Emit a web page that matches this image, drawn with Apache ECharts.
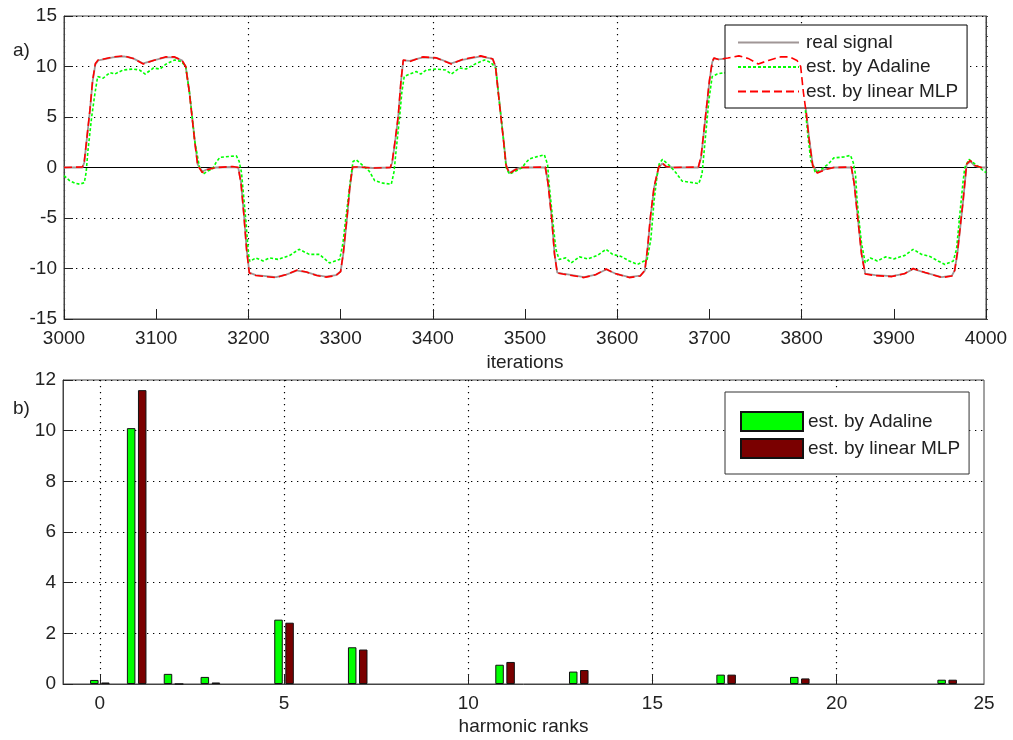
<!DOCTYPE html>
<html><head><meta charset="utf-8">
<script src="https://cdn.jsdelivr.net/npm/echarts@6/dist/echarts.min.js"></script>
<style>html,body{margin:0;padding:0;background:#fff}#c{width:1013px;height:740px}</style>
</head><body><div id="c"></div>
<script>
// ---- panel a) : time signals [iteration, value] ----
const realSignal = [
[3000,0],[3020,0],[3022,0.5],[3025,3],[3028,5.5],[3031,8.5],[3034,10.2],[3037,10.6],[3043,10.7],[3053,10.9],[3065,11.0],[3075,10.8],[3086,10.3],[3097,10.6],[3110,10.9],[3120,10.9],[3128,10.6],[3132,10],[3136,7.5],[3139,5],[3142,2.5],[3145,0.3],[3150,-0.4],[3156,-0.15],[3165,0],[3183,0.05],[3189,0],[3192,-1.5],[3195,-4.5],[3198,-8],[3201,-10.4],[3208,-10.65],[3219,-10.75],[3230,-10.85],[3241,-10.6],[3253,-10.2],[3263,-10.35],[3274,-10.65],[3284,-10.8],[3295,-10.65],[3300,-10.3],[3303,-8.5],[3307,-5],[3310,-2],[3313,0],[3318,0.05],[3335,-0.05],[3354,0],
[3356,0.5],[3359,2.5],[3362.5,5],[3365.5,8.5],[3368,10.6],[3375,10.55],[3389,10.9],[3404,10.85],[3420,10.3],[3432,10.65],[3452,11.0],[3465,10.75],[3468,10],[3471,7.5],[3474,5],[3477,2.5],[3479.5,0.3],[3483,-0.55],[3490,-0.15],[3497,0],[3522,0],[3525,-1.5],[3529,-5],[3532,-8.5],[3535,-10.4],[3541,-10.5],[3548,-10.6],[3564,-10.85],[3577,-10.6],[3588,-10.1],[3598,-10.5],[3613,-10.85],[3625,-10.7],[3630,-10.2],[3633,-8],[3636,-5],[3640,-2],[3645,0],[3649,0.4],[3653,0.1],[3660,0],[3688,0],
[3691,1],[3694,3.5],[3697,6],[3700,8.5],[3703,10.4],[3705,10.8],[3710,10.7],[3720,10.8],[3732,11.0],[3742,10.8],[3753,10.3],[3764,10.6],[3777,10.9],[3787,10.9],[3795,10.6],[3799,10],[3802,7.5],[3805,5.5],[3808,3],[3812,0.3],[3817,-0.5],[3826,-0.15],[3835,0],[3854,0],[3857,-1.5],[3861,-5],[3865,-8.5],[3869,-10.5],[3880,-10.65],[3898,-10.75],[3912,-10.5],[3921,-10.05],[3934,-10.4],[3952,-10.85],[3963,-10.7],[3966,-10.2],[3969,-8.5],[3972,-6],[3975,-3.5],[3979,0.3],[3983,0.6],[3988,0.15],[3995,0],[4000,0]
];
const mlpSignal = [
[3000,0],[3020,0.05],[3022,0.6],[3025,3.1],[3028,5.6],[3031,8.6],[3034,10.3],[3037,10.65],[3043,10.75],[3053,10.95],[3065,11.05],[3075,10.8],[3086,10.25],[3097,10.6],[3110,10.95],[3120,10.95],[3128,10.6],[3132,10],[3136,7.4],[3139,4.9],[3142,2.4],[3145,0.2],[3150,-0.5],[3156,-0.2],[3165,0],[3183,0.1],[3189,0],[3192,-1.6],[3195,-4.6],[3198,-8.1],[3201,-10.45],[3208,-10.7],[3219,-10.8],[3230,-10.9],[3241,-10.6],[3253,-10.15],[3263,-10.35],[3274,-10.7],[3284,-10.85],[3295,-10.7],[3300,-10.3],[3303,-8.4],[3307,-4.9],[3310,-1.9],[3313,0.05],[3318,0.05],[3335,-0.05],[3354,0],
[3356,0.6],[3359,2.6],[3362.5,5.1],[3365.5,8.6],[3368,10.65],[3375,10.5],[3389,10.95],[3404,10.85],[3420,10.25],[3432,10.7],[3452,11.05],[3465,10.75],[3468,10],[3471,7.4],[3474,4.9],[3477,2.4],[3479.5,0.2],[3483,-0.6],[3490,-0.2],[3497,0],[3522,0.05],[3525,-1.6],[3529,-5.1],[3532,-8.6],[3535,-10.45],[3541,-10.55],[3548,-10.65],[3564,-10.9],[3577,-10.6],[3588,-10.05],[3598,-10.5],[3613,-10.9],[3625,-10.75],[3630,-10.2],[3633,-7.9],[3636,-4.9],[3640,-1.9],[3645,0.05],[3649,0.45],[3653,0.1],[3660,0],[3688,0.05],
[3691,1.1],[3694,3.6],[3697,6.1],[3700,8.6],[3703,10.45],[3705,10.85],[3710,10.7],[3720,10.85],[3732,11.05],[3742,10.8],[3753,10.25],[3764,10.6],[3777,10.95],[3787,10.95],[3795,10.6],[3799,10],[3802,7.4],[3805,5.4],[3808,2.9],[3812,0.2],[3817,-0.55],[3826,-0.2],[3835,0],[3854,0.05],[3857,-1.6],[3861,-5.1],[3865,-8.6],[3869,-10.55],[3880,-10.7],[3898,-10.8],[3912,-10.5],[3921,-10.0],[3934,-10.4],[3952,-10.9],[3963,-10.75],[3966,-10.2],[3969,-8.4],[3972,-5.9],[3975,-3.4],[3979,0.35],[3983,0.7],[3988,0.2],[3995,0],[4000,0]
];
const adalineSignal = [
[3000,-0.8],[3006,-1.3],[3012,-1.55],[3017,-1.65],[3022,-1.5],[3024,-0.5],[3026,1.7],[3030,5],[3033.5,7.3],[3036.5,9],[3042.5,8.85],[3050,9.4],[3055,9.25],[3064,9.65],[3075,9.75],[3082,9.65],[3088,9.25],[3097,9.85],[3104,9.75],[3111,10.25],[3120,10.65],[3127,10.5],[3132,10],[3136,7.5],[3139,5],[3142,2.5],[3147,0],[3151,-0.65],[3156,-0.35],[3161,-0.15],[3165,0.5],[3169,1],[3180,1.1],[3187,1.15],[3190,0.6],[3192.5,-0.5],[3195,-3],[3197.5,-5.5],[3200,-8.5],[3201.5,-9.3],[3208,-8.95],[3216,-9.25],[3223,-8.95],[3232,-9.1],[3245,-8.7],[3255,-8.1],[3266,-8.6],[3277,-8.6],[3288,-9.45],[3299,-9.1],[3302.5,-7.5],[3305,-5.5],[3308,-3.3],[3311,-1],[3313.5,0.6],[3317,0.75],[3324,0.2],[3331,-0.35],[3337,-1.3],[3346,-1.55],[3355,-1.65],[3358,-0.4],[3360,1.5],[3364,5],[3366.5,7.5],[3369,9],[3375,9.25],[3382,9.5],[3387,9.25],[3393,9.65],[3404,9.75],[3414,9.65],[3420,9.25],[3429,9.85],[3436,9.75],[3447,10.3],[3456,10.65],[3463,10.4],[3468.5,9.8],[3471,7.5],[3474,5],[3477,2.5],[3479.5,0],[3483,-0.65],[3490,-0.35],[3497,0],[3501,0.5],[3505,0.85],[3512,1.05],[3521,1.25],[3524.5,0.3],[3526,-1.5],[3528,-3.3],[3531,-6],[3533.5,-8.1],[3537,-9.1],[3544,-8.95],[3550,-9.45],[3559,-8.85],[3568,-9.05],[3578.5,-8.7],[3588,-8.1],[3595,-8.6],[3604,-8.8],[3613,-9.25],[3622,-9.6],[3632.5,-9.1],[3636.5,-7.1],[3640,-3.3],[3643,-1],[3645.5,0.35],[3649,0.8],[3651,0.75],[3656,0.25],[3663.5,-0.5],[3670.5,-1.35],[3681.5,-1.5],[3688.5,-1.6],[3692,-0.65],[3696,3.3],[3699.5,6.7],[3703,9],[3708.5,9.25],
[3716,9.4],[3722,9.25],[3731,9.65],[3742,9.75],[3749,9.65],[3755,9.25],[3764,9.85],[3771,9.75],[3778,10.25],[3787,10.65],[3794,10.5],[3799,10],[3802,7.5],[3804,5.8],[3807,3],[3810,0.7],[3815,-0.5],[3822,-0.15],[3829,0.35],[3835,0.95],[3846,1.05],[3853,1.2],[3856,0.5],[3858.5,-0.7],[3860,-3],[3862,-5],[3865,-7.5],[3869,-9.45],[3874.5,-8.95],[3882,-9.25],[3891,-8.85],[3900,-9.05],[3912,-8.7],[3921,-8.1],[3930,-8.6],[3939,-8.8],[3948,-9.25],[3955.5,-9.6],[3964.5,-9.25],[3968,-8.1],[3972,-4.3],[3975,-1.5],[3977,0],[3981.5,0.8],[3988,0.35],[3995,-0.15],[4000,-0.5]
];

// ---- panel b) : harmonic amplitudes ----
const harmonicRanks = [0, 1, 2, 3, 5, 7, 11, 13, 17, 19, 23];
const adalineAmps   = [0.16, 10.1, 0.40, 0.28, 2.54, 1.45, 0.76, 0.49, 0.37, 0.28, 0.17];
const mlpAmps       = [0.06, 11.6, 0.0, 0.06, 2.42, 1.36, 0.87, 0.55, 0.37, 0.22, 0.17];
const rankTickValues = [0, 5, 10, 15, 20, 24];
const rankTickLabels = ['0', '5', '10', '15', '20', '25'];
const rankGridValues = [0, 5, 10, 15, 20];

const FONT = 'Liberation Sans, Arial, sans-serif';
const TXT = '#222';
const gridDot = {color: '#000', type: [1.3, 4.7], width: 1.2};

const chart = echarts.init(document.getElementById('c'), null, {renderer: 'canvas'});
chart.setOption({
  animation: false,
  backgroundColor: '#fff',
  textStyle: {fontFamily: FONT},
  title: [
    {text: 'a)', left: 8, top: 36, textStyle: {fontSize: 19, fontWeight: 'normal', color: TXT, fontFamily: FONT}},
    {text: 'b)', left: 8, top: 394, textStyle: {fontSize: 19, fontWeight: 'normal', color: TXT, fontFamily: FONT}}
  ],
  grid: [
    {left: 64, top: 16, width: 922, height: 303, show: true, borderColor: '#444', borderWidth: 1, containLabel: false},
    {left: 63, top: 380, width: 921, height: 304, show: true, borderColor: '#444', borderWidth: 1, containLabel: false}
  ],
  legend: [
    {
      data: ['real signal', 'est. by Adaline', 'est. by linear MLP'],
      orient: 'vertical', left: 725, top: 25,
      itemWidth: 61, itemHeight: 14, itemGap: 5.5,
      padding: [8, 9, 7, 12],
      borderColor: '#000', borderWidth: 1, backgroundColor: '#fff',
      itemStyle: {opacity: 0, borderWidth: 0},
      textStyle: {fontSize: 19, color: TXT, fontFamily: FONT, padding: [0, 0, 0, 2]},
      selectedMode: false
    },
    {
      data: ['est. by Adaline ', 'est. by linear MLP '],
      orient: 'vertical', left: 725, top: 392,
      icon: 'rect',
      itemWidth: 62, itemHeight: 19, itemGap: 6,
      padding: [19, 9, 15, 15],
      borderColor: '#333', borderWidth: 1, backgroundColor: '#fff',
      formatter: n => n.trim(),
      textStyle: {fontSize: 19, color: TXT, fontFamily: FONT},
      selectedMode: false
    }
  ],
  xAxis: [
    { // labels + ticks every 100
      type: 'value', gridIndex: 0, min: 3000, max: 4000, interval: 100,
      name: 'iterations', nameLocation: 'middle', nameGap: 34,
      nameTextStyle: {fontSize: 19, color: TXT, fontFamily: FONT},
      axisLine: {show: true, onZero: false, lineStyle: {color: '#444'}},
      axisTick: {show: true, inside: true, length: 10, lineStyle: {color: '#222'}},
      axisLabel: {fontSize: 19, color: TXT, margin: 10, fontFamily: FONT, formatter: v => String(v)},
      splitLine: {show: false}
    },
    { // grid lines every 200
      type: 'value', gridIndex: 0, min: 3000, max: 4000, interval: 200, position: 'bottom',
      axisLine: {show: false}, axisTick: {show: false}, axisLabel: {show: false},
      splitLine: {show: true, lineStyle: gridDot}
    },
    {
      type: 'value', gridIndex: 1, min: -1, max: 24,
      name: 'harmonic ranks', nameLocation: 'middle', nameGap: 33,
      nameTextStyle: {fontSize: 19, color: TXT, fontFamily: FONT},
      axisLine: {show: true, onZero: false, lineStyle: {color: '#444'}},
      axisTick: {show: true, inside: true, length: 10, customValues: rankGridValues, lineStyle: {color: '#222'}},
      axisLabel: {fontSize: 19, color: TXT, margin: 10, fontFamily: FONT, customValues: rankTickValues,
        formatter: v => rankTickLabels[rankTickValues.indexOf(v)] ?? ''},
      splitLine: {show: true, lineStyle: gridDot}
    }
  ],
  yAxis: [
    {
      type: 'value', gridIndex: 0, min: -15, max: 15, interval: 5,
      axisLine: {show: true, onZero: false, lineStyle: {color: '#444'}},
      axisTick: {show: true, inside: true, length: 9, lineStyle: {color: '#222'}},
      axisLabel: {fontSize: 19, color: TXT, margin: 7, fontFamily: FONT},
      splitLine: {show: true, lineStyle: gridDot}
    },
    {
      type: 'value', gridIndex: 0, min: -15, max: 15, interval: 1, position: 'right',
      axisLine: {show: true, onZero: false, lineStyle: {color: '#444'}},
      axisTick: {show: true, inside: false, length: 2, lineStyle: {color: '#444'}},
      axisLabel: {show: false}, splitLine: {show: false}
    },
    {
      type: 'value', gridIndex: 1, min: 0, max: 12, interval: 2,
      axisLine: {show: true, onZero: false, lineStyle: {color: '#444'}},
      axisTick: {show: true, inside: true, length: 10, lineStyle: {color: '#222'}},
      axisLabel: {fontSize: 19, color: TXT, margin: 7, fontFamily: FONT},
      splitLine: {show: true, lineStyle: gridDot}
    }
  ],
  series: [
    {
      name: 'real signal', type: 'line', xAxisIndex: 0, yAxisIndex: 0,
      data: realSignal, symbol: 'none', showSymbol: false, z: 2,
      lineStyle: {color: '#a09696', width: 1.8, type: 'solid'},
      itemStyle: {color: '#a09696'},
      markLine: {
        silent: true, symbol: ['none', 'none'], label: {show: false},
        lineStyle: {color: '#000', type: 'solid', width: 1},
        data: [{yAxis: 0}], z: 1
      }
    },
    {
      name: 'est. by Adaline', type: 'line', xAxisIndex: 0, yAxisIndex: 0,
      data: adalineSignal, symbol: 'none', showSymbol: false, z: 3,
      lineStyle: {color: '#00ff00', width: 1.6, type: [3, 2]},
      itemStyle: {color: '#00ff00'}
    },
    {
      name: 'est. by linear MLP', type: 'line', xAxisIndex: 0, yAxisIndex: 0,
      data: mlpSignal, symbol: 'none', showSymbol: false, z: 4,
      lineStyle: {color: '#ff0000', width: 1.6, type: [8, 4]},
      itemStyle: {color: '#ff0000'}
    },
    {
      name: 'est. by Adaline ', type: 'bar', xAxisIndex: 2, yAxisIndex: 2,
      data: harmonicRanks.map((r, i) => [r, adalineAmps[i]]),
      barWidth: 8.5, barGap: '30%',
      itemStyle: {color: '#00ff00', borderColor: '#111', borderWidth: 1}
    },
    {
      name: 'est. by linear MLP ', type: 'bar', xAxisIndex: 2, yAxisIndex: 2,
      data: harmonicRanks.map((r, i) => [r, mlpAmps[i]]),
      barWidth: 8.5, barGap: '30%',
      itemStyle: {color: '#7a0000', borderColor: '#111', borderWidth: 1}
    }
  ]
});
</script>
</body></html>
